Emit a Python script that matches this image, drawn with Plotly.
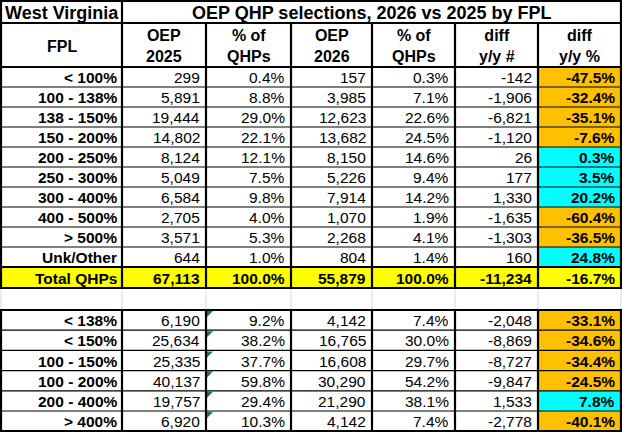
import plotly.graph_objects as go

# ---------------- data ----------------
fpl_labels = ["< 100%", "100 - 138%", "138 - 150%", "150 - 200%", "200 - 250%",
              "250 - 300%", "300 - 400%", "400 - 500%", "> 500%", "Unk/Other"]
oep_2025 = [299, 5891, 19444, 14802, 8124, 5049, 6584, 2705, 3571, 644]
pct_2025 = [0.4, 8.8, 29.0, 22.1, 12.1, 7.5, 9.8, 4.0, 5.3, 1.0]
oep_2026 = [157, 3985, 12623, 13682, 8150, 5226, 7914, 1070, 2268, 804]
pct_2026 = [0.3, 7.1, 22.6, 24.5, 14.6, 9.4, 14.2, 1.9, 4.1, 1.4]
diff_num = [-142, -1906, -6821, -1120, 26, 177, 1330, -1635, -1303, 160]
diff_pct = [-47.5, -32.4, -35.1, -7.6, 0.3, 3.5, 20.2, -60.4, -36.5, 24.8]

total_label = "Total QHPs"
total_vals = [67113, 100.0, 55879, 100.0, -11234, -16.7]

grp_labels = ["< 138%", "< 150%", "100 - 150%", "100 - 200%", "200 - 400%", "> 400%"]
grp_2025 = [6190, 25634, 25335, 40137, 19757, 6920]
grp_pct_2025 = [9.2, 38.2, 37.7, 59.8, 29.4, 10.3]
grp_2026 = [4142, 16765, 16608, 30290, 21290, 4142]
grp_pct_2026 = [7.4, 30.0, 29.7, 54.2, 38.1, 7.4]
grp_diff = [-2048, -8869, -8727, -9847, 1533, -2778]
grp_diff_pct = [-33.1, -34.6, -34.4, -24.5, 7.8, -40.1]

state = "West Virginia"
title = "OEP QHP selections, 2026 vs 2025 by FPL"
headers = ["FPL", "OEP<br>2025", "% of<br>QHPs", "OEP<br>2026", "% of<br>QHPs", "diff<br>y/y #", "diff<br>y/y %"]

# ---------------- layout geometry ----------------
W, H = 622, 432
col_x = [1, 122, 206, 291, 372, 455, 538, 621]
FONT = "Liberation Sans, Arial, sans-serif"
ORANGE = "#FFC000"
CYAN = "#00FFFF"
YELLOW = "#FFFF00"
GREEN = "#1E7B34"
FS = 15.5

title_top, title_bot = 1, 23
head_bot = 67
row_h = 20.0
blank_h = 22.0
row2_h = 20.2

shapes = []
annots = []

def rect(x0, x1, y0, y1, color):
    shapes.append(dict(type="rect", x0=x0, x1=x1, y0=y0, y1=y1, xref="x", yref="y",
                       fillcolor=color, line=dict(width=0), layer="below"))

def hline(x0, x1, y, w, color="black"):
    shapes.append(dict(type="line", x0=x0, x1=x1, y0=y, y1=y, xref="x", yref="y",
                       line=dict(color=color, width=w)))

def vline(x, y0, y1, w, color="black"):
    shapes.append(dict(type="line", x0=x, x1=x, y0=y0, y1=y1, xref="x", yref="y",
                       line=dict(color=color, width=w)))

def text(x, y, s, anchor="right", size=FS, bold=False):
    if bold:
        s = "<b>" + s + "</b>"
    annots.append(dict(x=x, y=y, xref="x", yref="y", text=s, showarrow=False,
                       xanchor=anchor, yanchor="middle", align="center",
                       font=dict(family=FONT, size=size, color="black")))

def fmt_int(v):
    return f"{v:,}"

def fmt_pct(v):
    return f"{v:.1f}%"

def diff_color(v):
    return ORANGE if v < 0 else CYAN

def data_row(y0, y1, label, vals, bold_all=False, fill=None):
    ym = (y0 + y1) / 2 + 0.5
    if fill:
        rect(col_x[0], col_x[-1], y0, y1, fill)
    else:
        rect(col_x[6], col_x[7], y0, y1, diff_color(vals[5]))
    text(col_x[1] - 3, ym, label, bold=True)
    strs = [fmt_int(vals[0]), fmt_pct(vals[1]), fmt_int(vals[2]), fmt_pct(vals[3]),
            fmt_int(vals[4]), fmt_pct(vals[5])]
    for i, s in enumerate(strs):
        text(col_x[i + 2] - 4, ym, s, bold=(bold_all or i == 5))

# title row
text(col_x[1] / 2 + 1, (title_top + title_bot) / 2 + 1, state, anchor="center", size=18, bold=True)
text((col_x[1] + col_x[-1]) / 2, (title_top + title_bot) / 2 + 1, title, anchor="center", size=18, bold=True)

# header row
for i, h in enumerate(headers):
    text((col_x[i] + col_x[i + 1]) / 2, (title_bot + head_bot) / 2 + 1, h, anchor="center", size=16, bold=True)

# block 1
y = head_bot
for k, lab in enumerate(fpl_labels):
    vals = [oep_2025[k], pct_2025[k], oep_2026[k], pct_2026[k], diff_num[k], diff_pct[k]]
    data_row(y, y + row_h, lab, vals)
    y += row_h
b1_bot = y
tot_bot = y + 21
data_row(y, tot_bot, total_label, total_vals, bold_all=True, fill=YELLOW)
blank_bot = tot_bot + blank_h
# block 2
y = blank_bot
b2_rows = []
for k, lab in enumerate(grp_labels):
    vals = [grp_2025[k], grp_pct_2025[k], grp_2026[k], grp_pct_2026[k], grp_diff[k], grp_diff_pct[k]]
    data_row(y, y + row2_h, lab, vals)
    b2_rows.append(y)
    x0 = col_x[2] + 1
    y0 = y + 1
    shapes.append(dict(type="path", path=f"M {x0},{y0} L {x0+6},{y0} L {x0},{y0+6} Z",
                       xref="x", yref="y", fillcolor=GREEN, line=dict(width=0)))
    y += row2_h
b2_bot = y

# ---------------- grid lines ----------------
for x in col_x:
    vline(x, tot_bot, blank_bot, 1, "#D9D9D9")

for k in range(1, len(fpl_labels)):
    hline(col_x[0], col_x[-1], head_bot + k * row_h, 1.2)
for yy in b2_rows[1:]:
    hline(col_x[0], col_x[-1], yy, 1.2)

for yy in [title_top, title_bot, head_bot, b1_bot, tot_bot, blank_bot, b2_bot]:
    hline(col_x[0] - 1, col_x[-1] + 1, yy, 2.2)

vline(col_x[0], title_top, tot_bot, 2.2)
vline(col_x[1], title_top, tot_bot, 2.2)
vline(col_x[-1], title_top, tot_bot, 2.2)
for x in col_x[2:-1]:
    vline(x, title_bot, tot_bot, 2.2)
for x in col_x:
    vline(x, blank_bot, b2_bot, 2.2)

fig = go.Figure()
fig.update_layout(
    width=W, height=H,
    margin=dict(l=0, r=0, t=0, b=0),
    paper_bgcolor="white", plot_bgcolor="white",
    xaxis=dict(range=[0, W], visible=False, fixedrange=True),
    yaxis=dict(range=[H, 0], visible=False, fixedrange=True),
    shapes=shapes, annotations=annots, showlegend=False,
)
fig.write_html("out.html", config={"displayModeBar": False},
               post_script="document.body.style.margin='0px';document.body.style.overflow='hidden';")
